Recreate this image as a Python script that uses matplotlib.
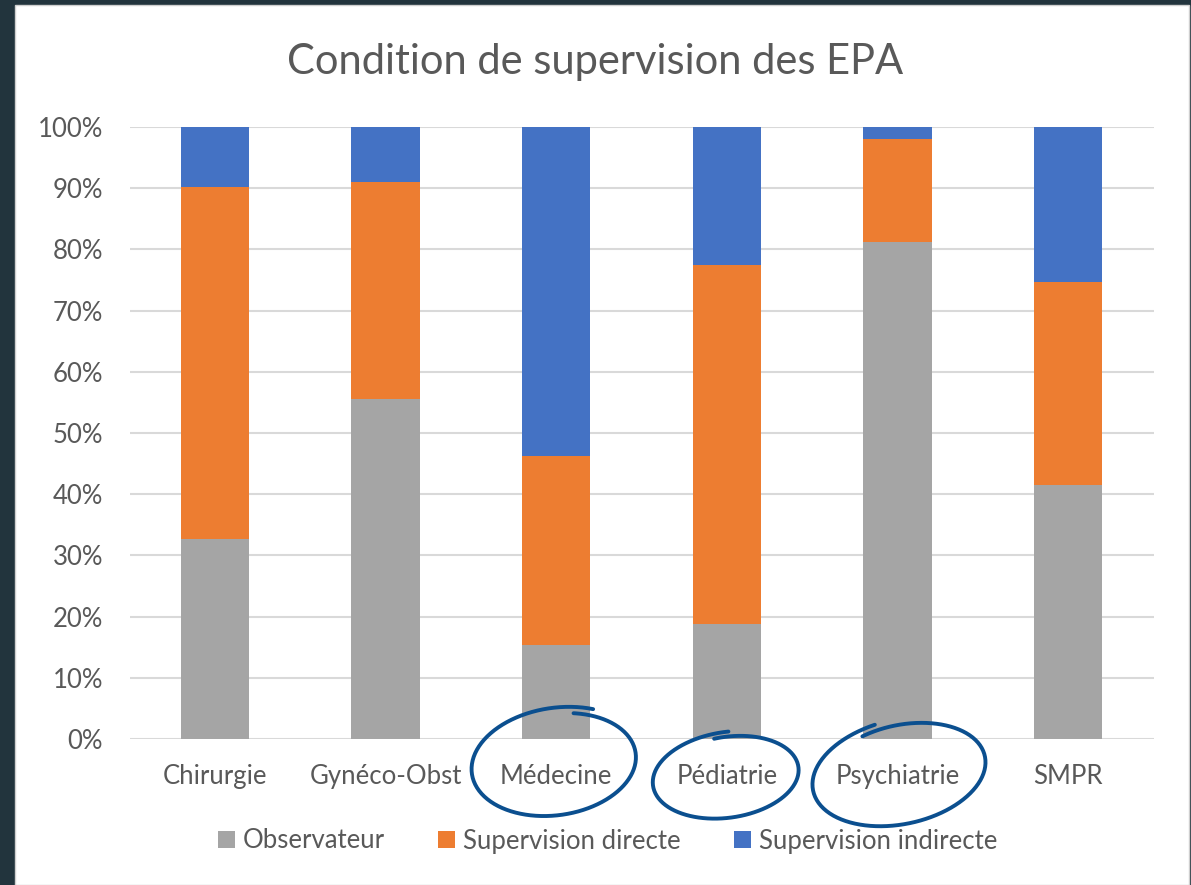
import numpy as np
import matplotlib.pyplot as plt
from matplotlib.patches import Rectangle

# Données (en %)
services = ['Chirurgie', 'Gynéco-Obst', 'Médecine', 'Pédiatrie', 'Psychiatrie', 'SMPR']
observateur = [32.7, 55.6, 15.4, 18.8, 81.2, 41.5]
supervision_directe = [57.5, 35.4, 30.8, 58.7, 16.8, 33.2]
supervision_indirecte = [9.8, 9.0, 53.8, 22.5, 2.0, 25.3]
series_labels = ['Observateur', 'Supervision directe', 'Supervision indirecte']
series_colors = ['#a5a5a5', '#ed7d31', '#4472c4']
ticks_y = [0, 10, 20, 30, 40, 50, 60, 70, 80, 90, 100]

plt.rcParams['font.family'] = ['Lato', 'DejaVu Sans']
text_color = '#595959'

fig = plt.figure(figsize=(11.91, 8.85), dpi=100)
fig.patch.set_facecolor('#22343d')
# panneau blanc
fig.patches.append(Rectangle((15 / 1191, 0), (1189 - 15) / 1191, 1 - 5 / 885,
                             transform=fig.transFigure, facecolor='white',
                             edgecolor='#cfcfcf', linewidth=1, zorder=-10))

ax = fig.add_axes([129.5 / 1191, 1 - 739 / 885, (1153.5 - 129.5) / 1191, (739 - 127) / 885])
ax.set_facecolor('none')

x = list(range(len(services)))
bottom2 = [a for a in observateur]
bottom3 = [a + b for a, b in zip(observateur, supervision_directe)]
bars = []
for vals, bott, col, lab in zip([observateur, supervision_directe, supervision_indirecte],
                                [None, bottom2, bottom3], series_colors, series_labels):
    b = ax.bar(x, vals, width=0.4, bottom=bott, color=col, label=lab, zorder=2)
    bars.append(b)

ax.set_xlim(-0.5, len(services) - 0.5)
ax.set_ylim(0, 100)
ax.set_yticks(ticks_y)
ax.set_yticklabels([f'{t}%' for t in ticks_y])
ax.set_xticks(x)
ax.set_xticklabels(services)
ax.grid(axis='y', color='#d9d9d9', linewidth=1.5, zorder=0)
ax.set_axisbelow(True)
for s in ['top', 'right', 'left', 'bottom']:
    ax.spines[s].set_visible(False)
ax.tick_params(axis='both', length=0, labelsize=18.5, colors=text_color)
ax.tick_params(axis='y', pad=19)
ax.tick_params(axis='x', pad=18)

fig.text(0.5, 1 - 62 / 885, 'Condition de supervision des EPA', ha='center', va='center',
         fontsize=30, color=text_color)

fig.legend(handles=bars, labels=series_labels, loc='center', ncol=3,
           bbox_to_anchor=(0.5 + 12 / 1191, 1 - 841 / 885), frameon=False, fontsize=18.5,
           labelcolor=text_color, handlelength=0.65, handleheight=0.65,
           handletextpad=0.3, columnspacing=2.1)

# cercles dessinés à la main autour de certains services (en pixels)
# (index service, décalage x, centre y, demi-largeur, demi-hauteur, angle, départ)
circles = [(2, 0, 763, 84, 53, 8, 60),
           (3, 1, 776, 74, 42, 8, 85),
           (4, 4, 773, 88, 51, 12, 100)]
for idx, dx, cy, a, b, ang, t0 in circles:
    cx = ax.transData.transform((idx, 0))[0] + dx
    t = np.radians(np.linspace(t0, t0 + 372, 200))
    sc = np.linspace(1.05, 0.93, 200)
    ex = a * sc * np.cos(t)
    ey = b * sc * np.sin(t)
    r = np.radians(ang)
    px = cx + ex * np.cos(r) - ey * np.sin(r)
    py = (885 - cy) + ex * np.sin(r) + ey * np.cos(r)
    fig.add_artist(plt.Line2D(px / 100, py / 100, transform=fig.dpi_scale_trans,
                              color='#0b4f8f', linewidth=2.8, solid_capstyle='round',
                              zorder=5))

fig.savefig('out.png', dpi=100, facecolor=fig.get_facecolor())
